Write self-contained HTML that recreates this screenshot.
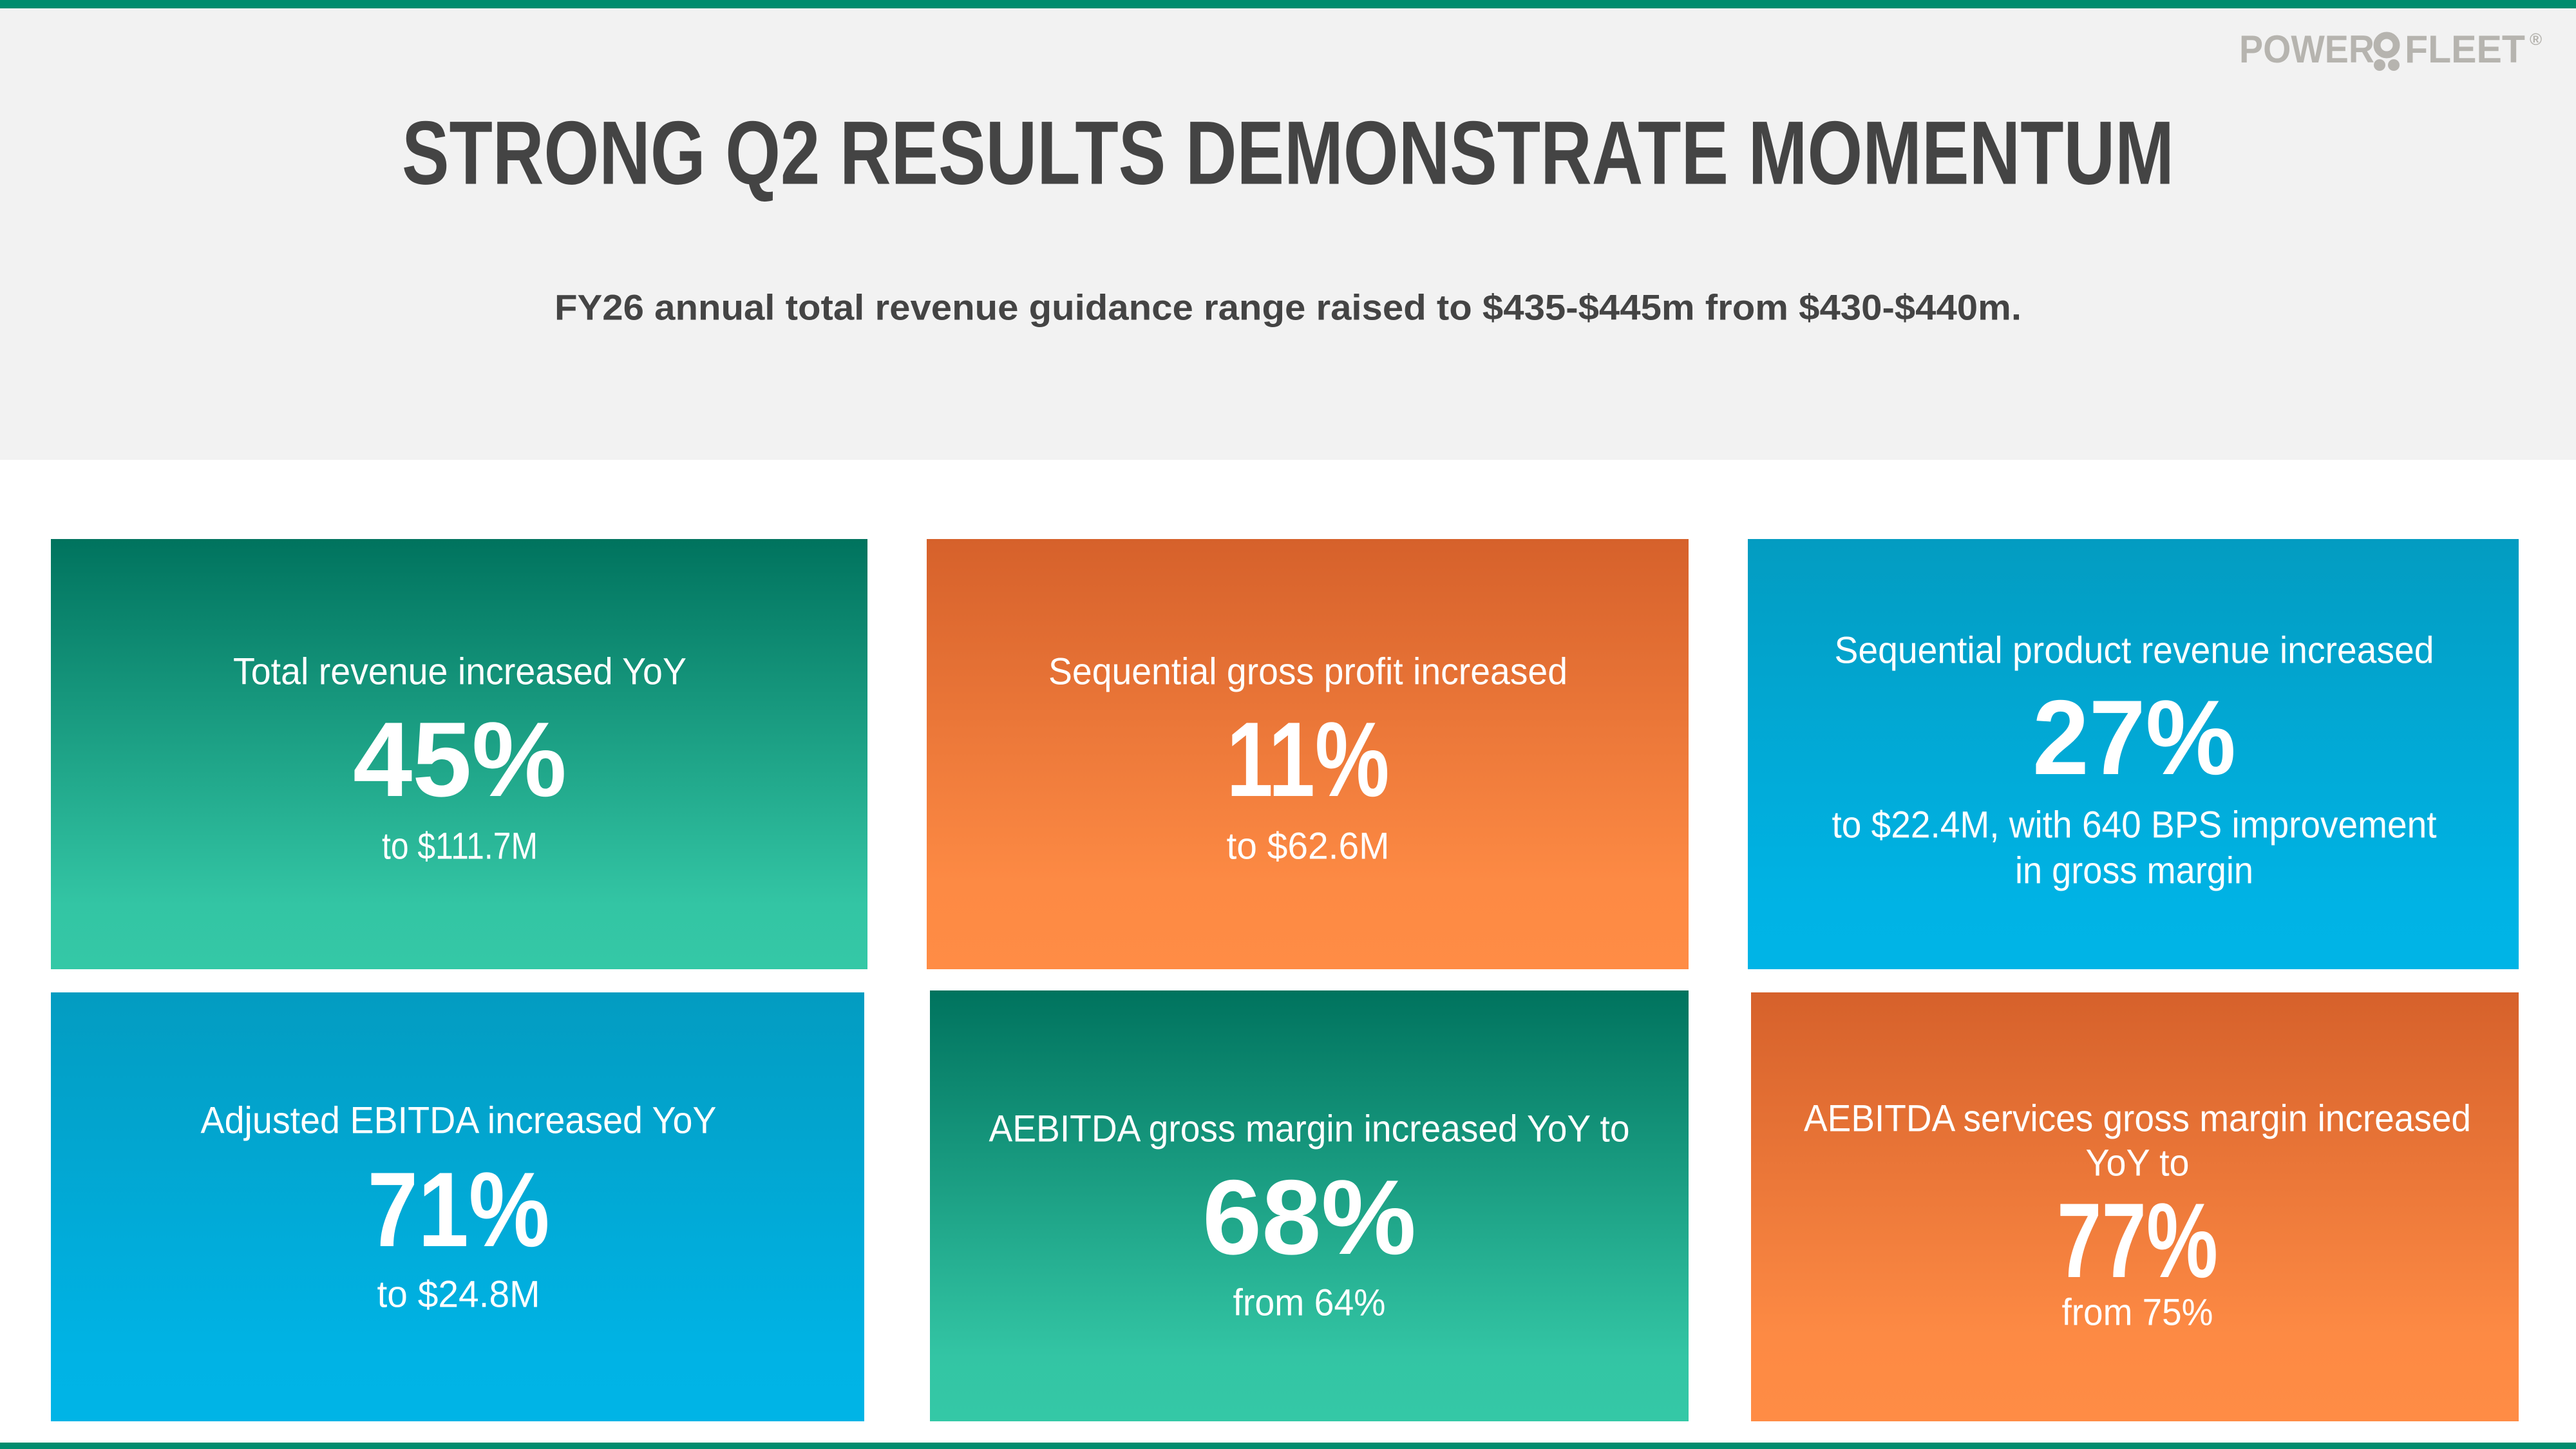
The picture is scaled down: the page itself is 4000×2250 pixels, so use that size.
<!DOCTYPE html>
<html><head><meta charset="utf-8"><style>html,body{margin:0;padding:0;background:#fff}svg{display:block}</style></head>
<body>
<svg width="4000" height="2250" viewBox="0 0 4000 2250" xmlns="http://www.w3.org/2000/svg" font-family="Liberation Sans, Arial, sans-serif">
<defs>
<linearGradient id="g" x1="0" y1="0" x2="0" y2="1"><stop offset="0" stop-color="#00735e"/><stop offset="0.85" stop-color="#33c5a4"/><stop offset="1" stop-color="#34c8a6"/></linearGradient>
<linearGradient id="o" x1="0" y1="0" x2="0" y2="1"><stop offset="0" stop-color="#d6612b"/><stop offset="0.8" stop-color="#fd8a44"/><stop offset="1" stop-color="#ff8c45"/></linearGradient>
<linearGradient id="b" x1="0" y1="0" x2="0" y2="1"><stop offset="0" stop-color="#039cc1"/><stop offset="0.85" stop-color="#00b3e5"/><stop offset="1" stop-color="#00b4e6"/></linearGradient>
</defs>
<rect x="0" y="0" width="4000" height="714" fill="#f2f2f2"/>
<rect x="0" y="0" width="4000" height="13" fill="#008c6e"/>
<rect x="0" y="2240" width="4000" height="10" fill="#008c6e"/>
<text x="3477" y="97" font-size="60" font-weight="bold" fill="#b6b4af" textLength="210" lengthAdjust="spacingAndGlyphs">POWER</text>
<circle cx="3706" cy="70" r="15" fill="none" stroke="#b6b4af" stroke-width="11"/>
<circle cx="3695" cy="101" r="9" fill="#b6b4af"/><circle cx="3717" cy="101" r="9" fill="#b6b4af"/>
<text x="3734" y="97" font-size="60" font-weight="bold" fill="#b6b4af" textLength="187" lengthAdjust="spacingAndGlyphs">FLEET</text>
<text x="3928" y="70" font-size="26" font-weight="bold" fill="#b6b4af">®</text>
<g text-anchor="middle" dominant-baseline="central">
<text x="2000" y="237" font-size="140" font-weight="bold" fill="#444" textLength="2752" lengthAdjust="spacingAndGlyphs">STRONG Q2 RESULTS DEMONSTRATE MOMENTUM</text>
<text x="2000" y="477" font-size="56" font-weight="bold" fill="#444" textLength="2278" lengthAdjust="spacingAndGlyphs">FY26 annual total revenue guidance range raised to $435-$445m from $430-$440m.</text>
</g>
<rect x="79" y="837" width="1268" height="668" fill="url(#g)"/>
<rect x="1439" y="837" width="1183" height="668" fill="url(#o)"/>
<rect x="2714" y="837" width="1197" height="668" fill="url(#b)"/>
<rect x="79" y="1541" width="1263" height="666" fill="url(#b)"/>
<rect x="1444" y="1538" width="1178" height="669" fill="url(#g)"/>
<rect x="2719" y="1541" width="1192" height="666" fill="url(#o)"/>
<g text-anchor="middle" dominant-baseline="central" fill="#fff">
<text x="714" y="1043" font-size="58" textLength="704" lengthAdjust="spacingAndGlyphs">Total revenue increased YoY</text>
<text x="714" y="1179" font-size="165" font-weight="bold" textLength="332" lengthAdjust="spacingAndGlyphs">45%</text>
<text x="714" y="1314" font-size="58" textLength="242" lengthAdjust="spacingAndGlyphs">to $111.7M</text>

<text x="2031" y="1043" font-size="58" textLength="806" lengthAdjust="spacingAndGlyphs">Sequential gross profit increased</text>
<text x="2031" y="1179" font-size="165" font-weight="bold" textLength="253" lengthAdjust="spacingAndGlyphs">11%</text>
<text x="2031" y="1314" font-size="58" textLength="253" lengthAdjust="spacingAndGlyphs">to $62.6M</text>

<text x="3314" y="1010" font-size="58" textLength="931" lengthAdjust="spacingAndGlyphs">Sequential product revenue increased</text>
<text x="3314" y="1145" font-size="165" font-weight="bold" textLength="316" lengthAdjust="spacingAndGlyphs">27%</text>
<text x="3314" y="1281" font-size="58" textLength="939" lengthAdjust="spacingAndGlyphs">to $22.4M, with 640 BPS improvement</text>
<text x="3314" y="1352" font-size="58" textLength="370" lengthAdjust="spacingAndGlyphs">in gross margin</text>

<text x="712" y="1740" font-size="58" textLength="801" lengthAdjust="spacingAndGlyphs">Adjusted EBITDA increased YoY</text>
<text x="712" y="1878" font-size="165" font-weight="bold" textLength="283" lengthAdjust="spacingAndGlyphs">71%</text>
<text x="712" y="2010" font-size="58" textLength="253" lengthAdjust="spacingAndGlyphs">to $24.8M</text>

<text x="2033" y="1753" font-size="58" textLength="995" lengthAdjust="spacingAndGlyphs">AEBITDA gross margin increased YoY to</text>
<text x="2033" y="1890" font-size="165" font-weight="bold" textLength="332" lengthAdjust="spacingAndGlyphs">68%</text>
<text x="2033" y="2023" font-size="58" textLength="237" lengthAdjust="spacingAndGlyphs">from 64%</text>

<text x="3319" y="1737" font-size="58" textLength="1036" lengthAdjust="spacingAndGlyphs">AEBITDA services gross margin increased</text>
<text x="3319" y="1806" font-size="58" textLength="161" lengthAdjust="spacingAndGlyphs">YoY to</text>
<text x="3319" y="1926" font-size="165" font-weight="bold" textLength="250" lengthAdjust="spacingAndGlyphs">77%</text>
<text x="3319" y="2038" font-size="58" textLength="235" lengthAdjust="spacingAndGlyphs">from 75%</text>
</g>
</svg>
</body></html>
